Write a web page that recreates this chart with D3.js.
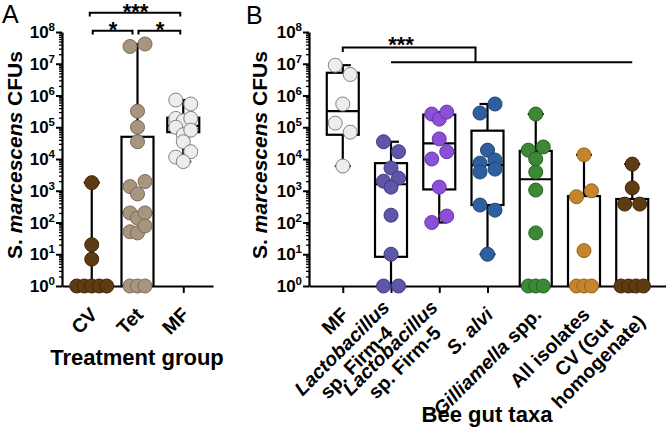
<!DOCTYPE html>
<html><head><meta charset="utf-8">
<script src="https://cdn.jsdelivr.net/npm/d3@7"></script>
<style>body{margin:0;background:#fff}svg{display:block;font-family:"Liberation Sans",Arial,sans-serif}</style>
</head><body><svg id="c" width="666" height="430"></svg>
<script>
// ---------- Panel A data ----------
const groupsA = ["CV", "Tet", "MF"];
const cvA  = [1800, 20, 7, 1, 1, 1, 1, 1];
const tetA = [3.5e7, 4.2e7, 3.2e5, 1.0e5, 3.5e4, 1350, 794, 1950, 200, 138, 200, 51, 47, 78, 1, 1, 1];
const mfA  = [7.2e5, 5.4e5, 1.9e5, 1.6e5, 1.9e5, 1.0e5, 5.8e4, 8.1e4, 1.15e4, 3.5e4, 1.7e4, 8.3e3];
const q1A  = [1, 1, 7e4];
const medA = [1, 200, 1.1e5];
const q3A  = [1, 5e4, 2e5];

// ---------- Panel B data ----------
const groupsB = ["MF", "Firm-4", "Firm-5", "S. alvi", "Gilliamella", "All isolates", "CV"];
const mfB    = [9e6, 4.6e6, 5.4e5, 1.35e5, 7e4, 6e3];
const firm4B = [3.5e4, 1.7e4, 2.0e3, 5.2e3, 2.5e3, 1.3e3, 170, 10, 1, 1];
const firm5B = [2.6e5, 1.8e5, 3.0e5, 4.3e4, 1.0e4, 1.7e4, 1.3e3, 100, 160];
const salviB = [2.8e5, 5.4e5, 7.4e3, 1.9e4, 9.3e3, 3.9e3, 4.8e3, 355, 245, 10];
const gillB  = [2.6e5, 1.9e4, 1.0e4, 2.4e4, 3.9e3, 1.05e3, 47, 1, 1, 1];
const allB   = [1.35e4, 650, 1000, 13, 1, 1, 1];
const cvB    = [6.9e3, 1230, 380, 380, 1, 1, 1, 1];
const q1B  = [5.8e4, 8.3, 1.1e3, 355, 1, 1, 1];
const medB = [3.2e5, 1.6e3, 3.1e4, 6.5e3, 2.3e3, 1, 1];
const q3B  = [5.2e6, 7.4e3, 2.5e5, 7.8e4, 1.8e4, 680, 550];

// tick labels (each line: list of [text, italic] segments)
const yTickExp = [0, 1, 2, 3, 4, 5, 6, 7, 8];
const labelsA = [[[["CV", 0]]], [[["Tet", 0]]], [[["MF", 0]]]];
const labelsB = [
  [[["MF", 0]]],
  [[["Lactobacillus", 1]], [["sp. Firm-4", 0]]],
  [[["Lactobacillus", 1]], [["sp. Firm-5", 0]]],
  [[["S. alvi", 1]]],
  [[["Gilliamella", 1], ["spp.", 0]]],
  [[["All isolates", 0]]],
  [[["CV (Gut", 0]], [["homogenate)", 0]]]
];
const colorsA = [["#5e3b13", "#3b250b"], ["#a8957f", "#7a6a58"], ["#ededed", "#808080"]];
const colorsB = [["#ededed", "#808080"], ["#5e57a8", "#3e3985"], ["#8b50d6", "#6634ad"],
                 ["#2f5f9f", "#1e4478"], ["#3c8834", "#276022"], ["#c6852c", "#94611a"], ["#5e3b13", "#3b250b"]];

const svg = d3.select("#c");
const defs = svg.append("defs");
const y = d3.scaleLog().domain([1, 1e8]).range([286, 32]);
const R = 7;
let pathId = 0;

function layout(vals) {
  const idx = vals.map((v, i) => i);
  const ones = idx.filter(i => vals[i] === 1);
  const rest = idx.filter(i => vals[i] !== 1).sort((a, b) => vals[b] - vals[a]);
  const clusters = []; let cur = null, prevY = null;
  rest.forEach(i => {
    const py = y(vals[i]);
    if (cur && cur.length < 3 && py - prevY < 11) cur.push(i);
    else { cur = [i]; clusters.push(cur); }
    prevY = py;
  });
  if (ones.length) clusters.push(ones);
  const off = new Array(vals.length).fill(0);
  clusters.forEach(c => {
    c.sort((a, b) => a - b);
    const n = c.length, step = n <= 2 ? 15 : 7.5;
    c.forEach((i, k) => off[i] = (k - (n - 1) / 2) * step);
  });
  return off;
}

function yAxis(ax) {
  const g = svg.append("g").attr("transform", `translate(${ax},0)`);
  const majors = yTickExp.map(e => Math.pow(10, e));
  const minors = [];
  for (let e = 0; e < 8; e++) for (let k = 2; k <= 9; k++) minors.push(k * Math.pow(10, e));
  g.append("g").call(d3.axisLeft(y).tickValues(minors).tickSize(3).tickSizeOuter(0).tickFormat(""))
    .call(s => { s.select(".domain").remove(); s.selectAll("line").attr("stroke", "#000").attr("stroke-width", 1.3); });
  g.append("g").call(d3.axisLeft(y).tickValues(majors).tickSize(6).tickSizeOuter(0).tickFormat(""))
    .call(s => { s.select(".domain").attr("stroke", "#000").attr("stroke-width", 2.2);
                 s.selectAll("line").attr("stroke", "#000").attr("stroke-width", 2); });
  yTickExp.forEach(e => {
    const t = g.append("text").attr("x", -7).attr("y", y(Math.pow(10, e)) + 6)
      .attr("text-anchor", "end").attr("font-size", 17).attr("font-weight", "bold");
    t.append("tspan").text("10");
    t.append("tspan").attr("dy", -7).attr("font-size", 11.5).text(e);
  });
}

function yTitle(x) {
  const t = svg.append("text").attr("transform", `translate(${x},155) rotate(-90)`)
    .attr("text-anchor", "middle").attr("font-size", 21).attr("font-weight", "bold");
  t.append("tspan").text("S. ");
  t.append("tspan").attr("font-style", "italic").text("marcescens");
  t.append("tspan").text(" CFUs");
}

// rotated (-45 deg) category labels drawn along diagonal text paths
function catLabel(px, lines) {
  const fs = 19.5, sp = fs * 0.278, c = Math.SQRT1_2;
  const axp = px + 2, ayp = 311;
  const measure = (s) => {
    const t = svg.append("text").attr("font-size", fs).attr("font-weight", "bold")
      .attr("font-style", s[1] ? "italic" : "normal").text(s[0]);
    const w = t.node().getComputedTextLength(); t.remove(); return w;
  };
  const built = lines.map(segs => {
    const ws = segs.map(measure);
    return { segs, ws, w: d3.sum(ws) + sp * (segs.length - 1) };
  });
  const wm = d3.max(built, b => b.w);
  const lh = fs * 1.05, n = lines.length;
  built.forEach((b, i) => {
    let u = -wm / 2 - b.w / 2;
    const v = (i - (n - 1) / 2) * lh + fs * 0.35;
    b.segs.forEach((s, k) => {
      const x0 = axp + u * c + v * c, y0 = ayp - u * c + v * c;
      const id = "lp" + (pathId++);
      defs.append("path").attr("id", id)
        .attr("d", `M${x0},${y0}L${x0 + 400 * c},${y0 - 400 * c}`);
      svg.append("text").attr("font-size", fs).attr("font-weight", "bold")
        .attr("font-style", s[1] ? "italic" : "normal")
        .append("textPath").attr("href", "#" + id).text(s[0]);
      u += b.ws[k] + sp;
    });
  });
}

function panel(groups, x, data, q1, med, q3, colors, labels) {
  const bw = 32, cap = 8;
  const gx = svg.append("g").attr("transform", "translate(0,286)");
  gx.call(d3.axisBottom(x).tickSize(7).tickSizeOuter(0).tickFormat(""))
    .call(s => { s.select(".domain").attr("stroke", "#000").attr("stroke-width", 2.2);
                 s.selectAll("line").attr("stroke", "#000").attr("stroke-width", 2); });
  groups.forEach((gname, gi) => {
    const cx = x(gname), vals = data[gi];
    const lo = d3.min(vals), hi = d3.max(vals);
    const b = svg.append("g").attr("stroke", "#000").attr("stroke-width", 2.2).attr("fill", "none");
    b.append("line").attr("x1", cx).attr("x2", cx).attr("y1", y(hi)).attr("y2", y(q3[gi]));
    b.append("line").attr("x1", cx).attr("x2", cx).attr("y1", y(q1[gi])).attr("y2", y(lo));
    b.append("line").attr("x1", cx - cap).attr("x2", cx + cap).attr("y1", y(hi)).attr("y2", y(hi));
    b.append("line").attr("x1", cx - cap).attr("x2", cx + cap).attr("y1", y(lo)).attr("y2", y(lo));
    b.append("rect").attr("x", cx - bw / 2).attr("width", bw).attr("y", y(q3[gi])).attr("height", y(q1[gi]) - y(q3[gi]));
    b.append("line").attr("x1", cx - bw / 2).attr("x2", cx + bw / 2).attr("y1", y(med[gi])).attr("y2", y(med[gi]));
  });
  groups.forEach((gname, gi) => {
    const cx = x(gname), vals = data[gi], off = layout(vals);
    svg.append("g").selectAll("circle").data(vals).join("circle")
      .attr("cx", (d, i) => cx + off[i]).attr("cy", d => y(d)).attr("r", R)
      .attr("fill", colors[gi][0]).attr("stroke", colors[gi][1]).attr("stroke-width", 1);
  });
  groups.forEach((gname, gi) => catLabel(x(gname), labels[gi]));
}

// Panel A
const xA = d3.scalePoint().domain(groupsA).range([62, 213]).padding(0.65);
yAxis(62);
panel(groupsA, xA, [cvA, tetA, mfA], q1A, medA, q3A, colorsA, labelsA);
yTitle(22);

// Panel B
const xB = d3.scalePoint().domain(groupsB).range([309, 666]).padding(0.7);
yAxis(309);
panel(groupsB, xB, [mfB, firm4B, firm5B, salviB, gillB, allB, cvB], q1B, medB, q3B, colorsB, labelsB);
yTitle(267);

// Axis titles and panel letters
svg.append("text").attr("x", 137).attr("y", 365).attr("text-anchor", "middle")
  .attr("font-size", 22).attr("font-weight", "bold").text("Treatment group");
svg.append("text").attr("x", 487).attr("y", 422).attr("text-anchor", "middle")
  .attr("font-size", 22).attr("font-weight", "bold").text("Bee gut taxa");
svg.append("text").attr("x", 2).attr("y", 23).attr("font-size", 25).text("A");
svg.append("text").attr("x", 246).attr("y", 24).attr("font-size", 25).text("B");

// Significance brackets
const br = svg.append("g").attr("stroke", "#000").attr("stroke-width", 2).attr("fill", "none");
const ax = g => xA(g), bx = g => xB(g);
br.append("path").attr("d", `M${ax("CV") - 2},16.5V12.7H${ax("MF") - 3}V16.5`);
br.append("path").attr("d", `M${ax("CV") + 1},34.5V30.7H${ax("Tet") - 5}V34.5`);
br.append("path").attr("d", `M${ax("Tet") + 1},34.5V30.7H${ax("MF") - 3}V34.5`);
br.append("path").attr("d", `M${bx("MF")},52V47.5H475.5V62.3`);
br.append("path").attr("d", `M${bx("Firm-4")},62.3H${bx("CV")}`);
const star = (x, yb, s) => svg.append("text").attr("x", x).attr("y", yb).attr("text-anchor", "middle")
  .attr("font-size", 22).attr("font-weight", "bold").text(s);
star(135.5, 19, "***");
star(113, 36.5, "*");
star(160, 36.5, "*");
star(401, 51.5, "***");
</script>
</body></html>
